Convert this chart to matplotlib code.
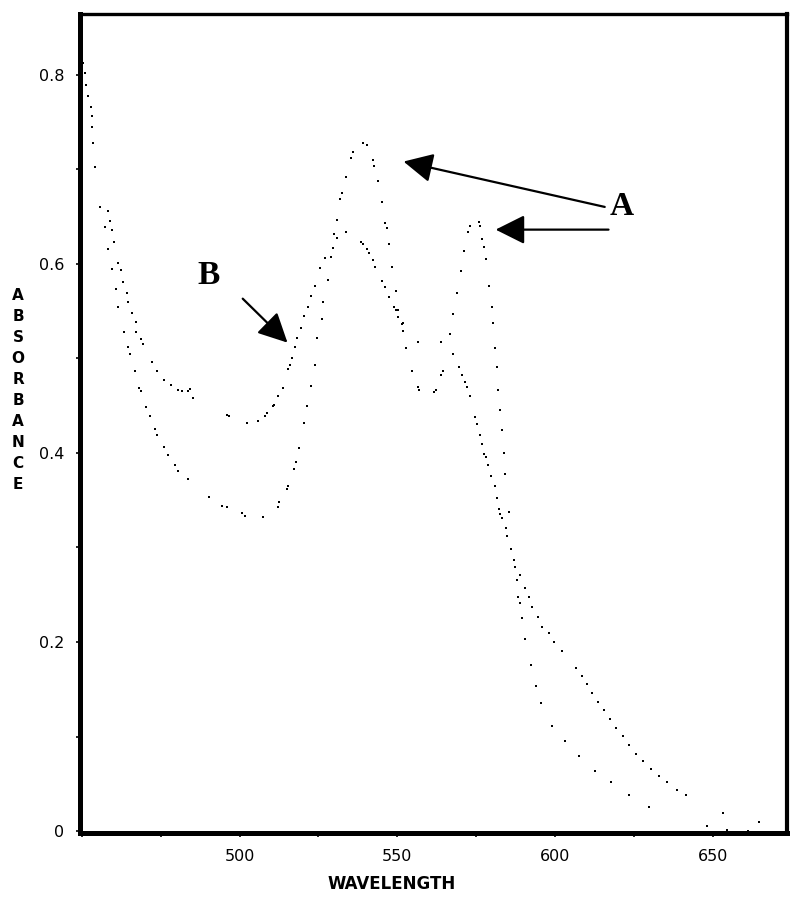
import matplotlib
matplotlib.use("Agg")
import matplotlib.pyplot as plt
import numpy as np
from matplotlib.ticker import MultipleLocator

# shared start of both spectra (they overlap below ~455 nm)
wl_start = [449.3, 450.2, 450.9, 451.2, 451.8, 452.8, 453.1, 453.3, 453.4, 454.3]
abs_start = [0.824, 0.812, 0.802, 0.789, 0.777, 0.766, 0.756, 0.745, 0.728, 0.702]

# spectrum A: two peaks (~539 and ~576 nm)
wl_a = [455.9, 457.2, 458.2, 459.4, 460.7, 461.6, 463.5, 464.5, 465.1, 466.7,
        468.0, 468.6, 470.2, 471.5, 473.1, 473.7, 475.9, 477.2, 479.4, 480.4,
        483.5, 490.2, 494.3, 495.9, 500.7, 501.6, 507.3, 512.1, 512.4, 514.9,
        515.3, 517.2, 517.8, 518.8, 520.3, 521.3, 522.5, 523.8, 524.7, 526.0,
        526.6, 527.9, 529.5, 530.8, 531.7, 532.4, 533.6, 535.2, 535.9, 539.0,
        540.3, 542.2, 542.5, 543.8, 545.1, 546.0, 546.6, 547.3, 548.2, 549.5,
        550.4, 551.7, 552.9, 554.6, 556.5, 556.8, 561.5, 562.2, 563.8, 564.4,
        566.6, 567.6, 568.8, 570.1, 571.1, 572.3, 573.0, 575.8, 576.4, 576.8,
        577.4, 578.0, 579.0, 579.9, 580.3, 580.9, 581.5, 581.9, 582.5, 583.1,
        583.8, 584.1, 585.3, 586.0, 586.9, 587.5, 587.9, 588.2, 588.8, 589.5,
        590.4, 592.3, 593.9, 595.5, 599.0, 603.1, 607.5, 612.6, 617.7, 623.4,
        629.7]
abs_a = [0.660, 0.639, 0.616, 0.594, 0.573, 0.554, 0.528, 0.512, 0.505, 0.486,
         0.469, 0.465, 0.448, 0.439, 0.425, 0.419, 0.406, 0.398, 0.387, 0.381,
         0.372, 0.353, 0.344, 0.343, 0.336, 0.333, 0.332, 0.343, 0.348, 0.362,
         0.365, 0.383, 0.390, 0.405, 0.432, 0.449, 0.471, 0.493, 0.521, 0.541,
         0.559, 0.583, 0.617, 0.646, 0.668, 0.675, 0.692, 0.712, 0.718, 0.728,
         0.725, 0.710, 0.703, 0.687, 0.665, 0.643, 0.638, 0.621, 0.597, 0.571,
         0.551, 0.537, 0.511, 0.487, 0.470, 0.466, 0.464, 0.466, 0.482, 0.487,
         0.526, 0.547, 0.569, 0.592, 0.613, 0.633, 0.640, 0.644, 0.640, 0.626,
         0.618, 0.605, 0.576, 0.554, 0.537, 0.511, 0.491, 0.466, 0.445, 0.424,
         0.400, 0.378, 0.337, 0.298, 0.287, 0.279, 0.266, 0.248, 0.241, 0.225,
         0.203, 0.176, 0.153, 0.135, 0.111, 0.095, 0.079, 0.064, 0.052, 0.038,
         0.026]

# spectrum B: single broad band (~533 nm) with shoulder near 560 nm
wl_b = [458.2, 458.8, 459.4, 460.1, 461.6, 462.3, 462.9, 464.2, 464.5, 465.8,
        467.0, 467.3, 468.6, 469.3, 472.1, 473.7, 475.9, 478.1, 480.4, 481.6,
        483.5, 484.2, 485.1, 495.9, 496.5, 502.2, 506.0, 508.0, 508.6, 510.5,
        510.8, 512.1, 513.7, 515.3, 515.9, 516.6, 517.5, 518.2, 519.4, 520.3,
        521.6, 522.8, 523.8, 525.4, 527.0, 528.9, 530.1, 530.8, 533.6, 538.4,
        539.0, 540.3, 540.9, 542.2, 543.1, 545.1, 546.0, 547.3, 548.9, 549.5,
        550.1, 551.4, 551.7, 556.5, 563.8, 567.6, 569.5, 570.4, 571.4, 572.0,
        573.0, 574.6, 575.2, 576.1, 576.8, 577.4, 578.0, 578.7, 579.6, 580.9,
        581.5, 582.2, 582.5, 583.1, 584.4, 584.7, 588.8, 590.4, 591.7, 592.6,
        594.5, 595.8, 598.0, 599.6, 602.1, 606.6, 608.5, 610.1, 611.7, 613.6,
        615.5, 617.4, 619.3, 621.5, 623.4, 625.6, 627.8, 630.4, 632.9, 635.4,
        638.6, 641.5, 648.1, 653.2, 654.5, 661.1, 664.6]
abs_b = [0.656, 0.645, 0.636, 0.623, 0.601, 0.593, 0.581, 0.569, 0.559, 0.548,
         0.538, 0.528, 0.520, 0.515, 0.496, 0.487, 0.477, 0.472, 0.466, 0.465,
         0.465, 0.467, 0.458, 0.440, 0.439, 0.432, 0.434, 0.439, 0.442, 0.449,
         0.451, 0.460, 0.469, 0.489, 0.493, 0.500, 0.512, 0.521, 0.532, 0.545,
         0.554, 0.566, 0.576, 0.595, 0.606, 0.607, 0.631, 0.627, 0.633, 0.623,
         0.621, 0.615, 0.611, 0.604, 0.596, 0.582, 0.575, 0.565, 0.554, 0.551,
         0.544, 0.536, 0.529, 0.517, 0.517, 0.504, 0.491, 0.482, 0.475, 0.470,
         0.460, 0.438, 0.430, 0.419, 0.409, 0.399, 0.396, 0.387, 0.375, 0.365,
         0.352, 0.341, 0.335, 0.331, 0.321, 0.312, 0.271, 0.257, 0.248, 0.237,
         0.226, 0.216, 0.210, 0.200, 0.190, 0.172, 0.164, 0.156, 0.146, 0.137,
         0.128, 0.119, 0.109, 0.101, 0.091, 0.082, 0.074, 0.066, 0.058, 0.052,
         0.043, 0.038, 0.005, 0.019, 0.001, 0.000, 0.010]

x_ticks = [500, 550, 600, 650]
y_ticks = [0, 0.2, 0.4, 0.6, 0.8]
y_tick_labels = ["0", "0.2", "0.4", "0.6", "0.8"]

fig = plt.figure(figsize=(8, 9.02), dpi=100)
ax = fig.add_axes([80 / 800, 69 / 902, 707 / 800, 819 / 902])

for wl, ab in [(wl_start, abs_start), (wl_a, abs_a), (wl_b, abs_b)]:
    ax.plot(wl, ab, linestyle="none", marker="s", markersize=1.5,
            markeredgewidth=0, color="black")

ax.set_xlim(449.4, 673.6)
ax.set_ylim(-0.002, 0.864)

ax.set_xticks(x_ticks)
ax.set_yticks(y_ticks)
ax.set_yticklabels(y_tick_labels)
ax.xaxis.set_minor_locator(MultipleLocator(25))
ax.yaxis.set_minor_locator(MultipleLocator(0.1))
ax.tick_params(axis="both", which="major", direction="out", length=3,
               width=1.2, labelsize=11.5, pad=8.5)
ax.tick_params(axis="both", which="minor", direction="out", length=3, width=1.2)

ax.spines["left"].set_linewidth(3.6)
ax.spines["bottom"].set_linewidth(3.6)
ax.spines["top"].set_linewidth(2.4)
ax.spines["right"].set_linewidth(3.0)

# stacked letters for the y label
fig.text(18 / 800, 1 - 390 / 902, "\n".join("ABSORBANCE"), ha="center",
         va="center", fontsize=11, fontweight="bold", linespacing=1.5)
fig.text(392 / 800, 1 - 884 / 902, "WAVELENGTH", ha="center", va="center",
         fontsize=12, fontweight="bold")

arrow = dict(arrowstyle="-|>,head_length=0.9,head_width=0.45",
             mutation_scale=20, lw=1.6, color="black",
             shrinkA=0, shrinkB=0)
ax.annotate("", xy=(552.0, 0.708), xytext=(615.8, 0.660), arrowprops=arrow)
ax.annotate("", xy=(581.2, 0.636), xytext=(617.0, 0.636), arrowprops=arrow)
ax.annotate("", xy=(515.2, 0.5165), xytext=(501.0, 0.563), arrowprops=arrow)

ax.text(621.2, 0.66, "A", ha="center", va="center", fontsize=24,
        fontweight="bold", family="Liberation Serif")
ax.text(490.2, 0.588, "B", ha="center", va="center", fontsize=24,
        fontweight="bold", family="Liberation Serif")

fig.savefig("out.png", dpi=100)
